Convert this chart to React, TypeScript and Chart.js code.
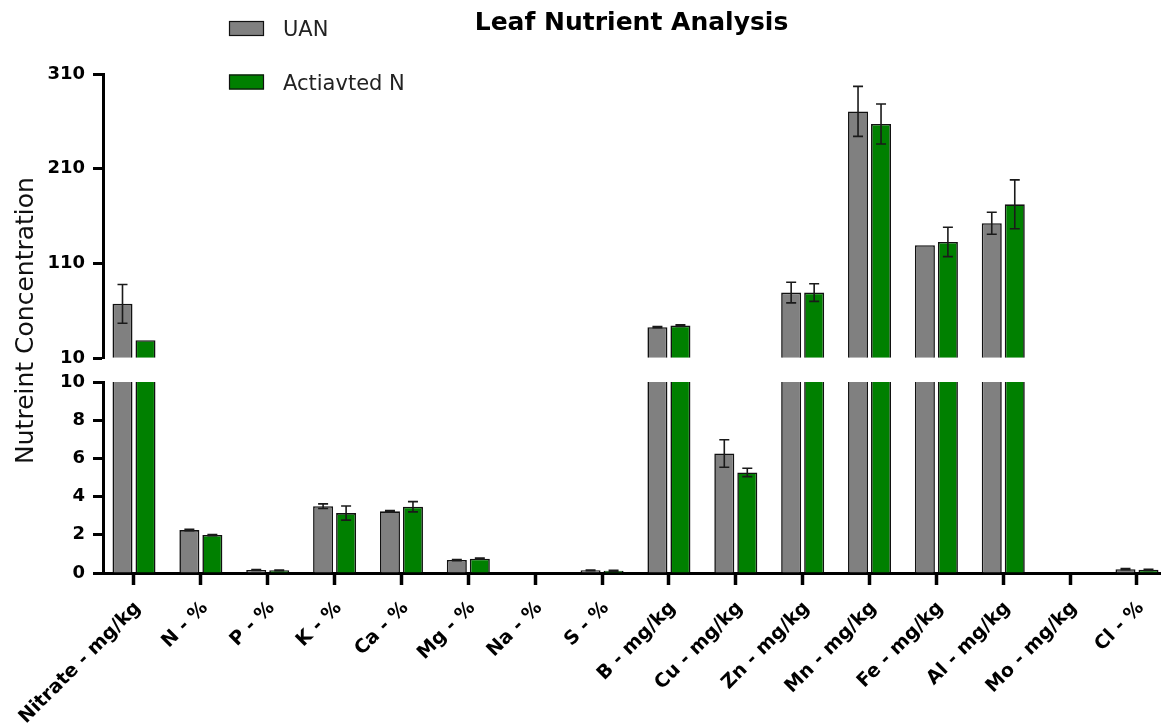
import React, { useEffect, useRef } from 'react';
import { Chart, registerables } from 'chart.js';

Chart.register(...registerables);

// ---------- data ----------
const categories = [
  'Nitrate - mg/kg', 'N - %', 'P - %', 'K - %', 'Ca - %', 'Mg - %', 'Na - %', 'S - %',
  'B - mg/kg', 'Cu - mg/kg', 'Zn - mg/kg', 'Mn - mg/kg', 'Fe - mg/kg', 'Al - mg/kg', 'Mo - mg/kg', 'Cl - %',
];
const seriesNames = ['UAN', 'Actiavted N'];
const seriesColors = ['#808080', '#008000'];
const uanValues = [67.3, 2.25, 0.16, 3.5, 3.23, 0.68, 0, 0.14, 42.7, 6.26, 79.2, 270.5, 129.2, 152.4, 0, 0.2];
const uanErrors = [20.4, 0.04, 0.02, 0.12, 0.04, 0.03, 0, 0.02, 0.7, 0.72, 10.9, 26.4, 0, 11.6, 0, 0.03];
const activatedValues = [29.0, 1.99, 0.14, 3.14, 3.47, 0.75, 0, 0.12, 44.4, 5.27, 79.2, 257.2, 132.7, 172.4, 0, 0.17];
const activatedErrors = [0, 0.03, 0.02, 0.37, 0.27, 0.03, 0, 0.02, 0.9, 0.22, 9.3, 21.1, 15.5, 25.8, 0, 0.03];
const lowerTicks = [0, 2, 4, 6, 8, 10];
const upperTicks = [10, 110, 210, 310];
const BREAK_VALUE = 10;
const chartTitle = 'Leaf Nutrient Analysis';
const yAxisTitle = 'Nutreint Concentration';

const FONT = 'DejaVu Sans';

function lowerPart(values: number[]) {
  return values.map((v, i) => ({ x: i, y: Math.min(v, BREAK_VALUE) }));
}
function upperPart(values: number[]) {
  return values.map((v, i) => ({ x: i, y: v > BREAK_VALUE ? v : null }));
}
function lowerErr(values: number[], errs: number[]) {
  return values.map((v, i) => (v <= BREAK_VALUE ? errs[i] : null));
}
function upperErr(values: number[], errs: number[]) {
  return values.map((v, i) => (v > BREAK_VALUE ? errs[i] : null));
}

const errorBarPlugin = {
  id: 'errorBars',
  afterDatasetsDraw(chart: any) {
    const ctx = chart.ctx;
    chart.data.datasets.forEach((ds: any, di: number) => {
      const meta = chart.getDatasetMeta(di);
      if (!ds.errors || meta.hidden) return;
      const scale = chart.scales[ds.yAxisID];
      meta.data.forEach((el: any, i: number) => {
        const e = ds.errors[i];
        const pt = ds.data[i];
        if (e == null || e === 0 || pt == null || pt.y == null) return;
        const v = pt.y;
        const yHi = scale.getPixelForValue(v + e);
        const yLo = scale.getPixelForValue(Math.max(v - e, scale.min));
        const x = el.x;
        const cap = 5;
        ctx.save();
        ctx.strokeStyle = '#1a1a1a';
        ctx.lineWidth = 1.6;
        ctx.beginPath();
        ctx.moveTo(x, yHi);
        ctx.lineTo(x, yLo);
        ctx.moveTo(x - cap, yHi);
        ctx.lineTo(x + cap, yHi);
        ctx.moveTo(x - cap, yLo);
        ctx.lineTo(x + cap, yLo);
        ctx.stroke();
        ctx.restore();
      });
    });
  },
};

const decorPlugin = {
  id: 'decor',
  afterDraw(chart: any) {
    const ctx = chart.ctx;
    // legend
    const lowers = chart.data.datasets.filter((d: any) => d.isLegend);
    lowers.forEach((d: any, i: number) => {
      const y = 21 + i * 53.5;
      ctx.save();
      ctx.fillStyle = d.backgroundColor;
      ctx.fillRect(229, y, 35, 15);
      ctx.strokeStyle = '#111';
      ctx.lineWidth = 1.2;
      ctx.strokeRect(229.5, y + 0.5, 34, 14);
      ctx.fillStyle = '#222';
      ctx.font = `21px "${FONT}"`;
      ctx.textAlign = 'left';
      ctx.textBaseline = 'alphabetic';
      ctx.fillText(d.label, 283, y + 15);
      ctx.restore();
    });
    // y axis title
    const top = chart.chartArea.top;
    const bottom = chart.chartArea.bottom;
    ctx.save();
    ctx.translate(33, (top + bottom) / 2 - 3);
    ctx.rotate(-Math.PI / 2);
    ctx.font = `25px "${FONT}"`;
    ctx.fillStyle = '#111';
    ctx.textAlign = 'center';
    ctx.textBaseline = 'alphabetic';
    ctx.fillText(yAxisTitle, 0, 0);
    ctx.restore();
  },
};

export default function App() {
  const ref = useRef<HTMLCanvasElement | null>(null);

  useEffect(() => {
    if (!ref.current) return;
    const borderW = (truncated: boolean) =>
      truncated ? { top: 0, bottom: 0, left: 1.6, right: 1.6 } : 1.6;

    const makeSets = (name: string, color: string, values: number[], errs: number[], stack: string) => [
      {
        label: name,
        isLegend: true,
        data: lowerPart(values),
        errors: lowerErr(values, errs),
        yAxisID: 'yLow',
        stack,
        backgroundColor: color,
        borderColor: '#111',
        borderWidth: (c: any) => borderW(values[c.dataIndex] > BREAK_VALUE),
      },
      {
        label: name + ' (upper)',
        isLegend: false,
        data: upperPart(values),
        errors: upperErr(values, errs),
        yAxisID: 'yHigh',
        stack,
        base: BREAK_VALUE,
        backgroundColor: color,
        borderColor: '#111',
        borderWidth: 1.6,
      },
    ];

    const datasets: any[] = [
      ...makeSets(seriesNames[0], seriesColors[0], uanValues, uanErrors, 'uan'),
      ...makeSets(seriesNames[1], seriesColors[1], activatedValues, activatedErrors, 'act'),
    ];

    const axisCommon = {
      position: 'left' as const,
      stack: 'y',
      beginAtZero: false,
      stacked: false,
      border: { display: true, color: '#000', width: 3 },
      grid: { display: true, drawOnChartArea: false, drawTicks: true, tickLength: 10, tickWidth: 3, tickColor: '#000' },
      ticks: { color: '#000', padding: 8, font: { family: FONT, size: 18, weight: 'bold' as const } },
      afterFit: (s: any) => { s.width = 60; },
    };

    const chart = new Chart(ref.current, {
      type: 'bar',
      data: { datasets },
      plugins: [errorBarPlugin, decorPlugin],
      options: {
        responsive: false,
        animation: false,
        devicePixelRatio: 1,
        events: [],
        categoryPercentage: 0.688,
        barPercentage: 0.87,
        layout: { padding: { left: 43, right: 6, top: 0, bottom: 0 } },
        plugins: {
          legend: { display: false },
          tooltip: { enabled: false },
          title: {
            display: true,
            text: chartTitle,
            fullSize: false,
            color: '#000',
            font: { family: FONT, size: 25, weight: 'bold' },
            padding: { top: 8, bottom: 36 },
          },
        },
        scales: {
          x: {
            type: 'linear',
            min: -0.4636,
            max: 15.344,
            offset: false,
            border: { display: true, color: '#000', width: 3 },
            grid: { display: true, offset: false, drawOnChartArea: false, drawTicks: true, tickLength: 12, tickWidth: 3.5, tickColor: '#000' },
            afterBuildTicks: (s: any) => { s.ticks = categories.map((_, i) => ({ value: i })); },
            afterFit: (s: any) => { s.height = 154; s.paddingLeft = 0; s.paddingRight = 0; },
            ticks: {
              autoSkip: false,
              minRotation: 45,
              maxRotation: 45,
              padding: 12,
              labelOffset: 4,
              color: '#000',
              font: { family: FONT, size: 19, weight: 'bold' },
              callback: (v: any) => categories[Math.round(Number(v))] ?? '',
            },
          },
          yLow: {
            ...axisCommon,
            type: 'linear',
            min: 0,
            max: 10,
            weight: 1,
            stackWeight: 191,
            afterBuildTicks: (s: any) => { s.ticks = lowerTicks.map((v) => ({ value: v })); },
          },
          ySpacer: {
            type: 'linear',
            position: 'left',
            stack: 'y',
            weight: 2,
            stackWeight: 24,
            min: 0,
            max: 1,
            border: { display: false },
            grid: { display: false },
            ticks: { display: false },
            afterFit: (s: any) => { s.width = 60; },
          },
          yHigh: {
            ...axisCommon,
            type: 'linear',
            min: 10,
            max: 310,
            weight: 3,
            stackWeight: 284.3,
            afterBuildTicks: (s: any) => { s.ticks = upperTicks.map((v) => ({ value: v })); },
          },
        } as any,
      } as any,
    });
    return () => chart.destroy();
  }, []);

  return (
    <div style={{ position: 'absolute', left: 0, top: 0, width: 1166, height: 727, background: '#fff' }}>
      <canvas ref={ref} width={1166} height={727} style={{ display: 'block' }} />
    </div>
  );
}
